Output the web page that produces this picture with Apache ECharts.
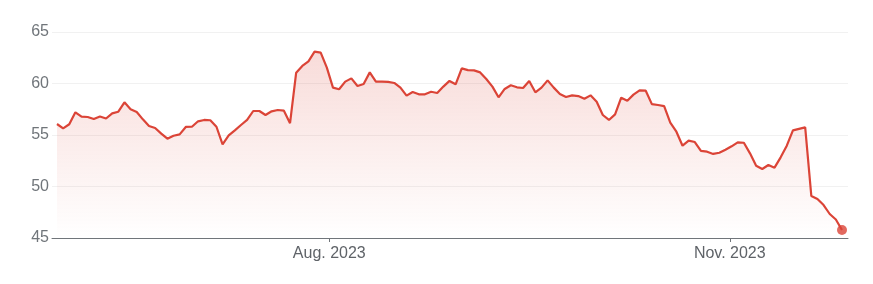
<!DOCTYPE html>
<html>
<head>
<meta charset="utf-8">
<script src="https://cdn.jsdelivr.net/npm/echarts@6/dist/echarts.min.js"></script>
<style>
html,body{margin:0;padding:0;background:#fff;}
#chart{width:873px;height:284px;}
</style>
</head>
<body>
<div id="chart"></div>
<script>
// Daily closing prices (trading-day index 0..128)
const prices = [
  56.07, 55.65, 56.04, 57.2, 56.78, 56.75, 56.55, 56.8, 56.6, 57.1,
  57.26, 58.17, 57.5, 57.23, 56.52, 55.87, 55.68, 55.13, 54.64, 54.93,
  55.06, 55.78, 55.8, 56.33, 56.46, 56.43, 55.8, 54.1, 54.96, 55.45,
  55.97, 56.46, 57.33, 57.33, 56.94, 57.3, 57.43, 57.36, 56.15, 61.05,
  61.7, 62.15, 63.1, 63.0, 61.54, 59.6, 59.44, 60.18, 60.5, 59.76,
  59.95, 61.08, 60.18, 60.18, 60.15, 60.05, 59.6, 58.82, 59.18, 58.95,
  58.95, 59.2, 59.08, 59.7, 60.25, 59.92, 61.47, 61.3, 61.27, 61.08,
  60.44, 59.7, 58.66, 59.47, 59.83, 59.63, 59.56, 60.25, 59.15, 59.6,
  60.3, 59.6, 58.98, 58.69, 58.85, 58.78, 58.52, 58.85, 58.23, 56.94,
  56.46, 57.0, 58.62, 58.33, 58.92, 59.34, 59.3, 58.0, 57.91, 57.8,
  56.2, 55.32, 53.96, 54.45, 54.32, 53.45, 53.38, 53.16, 53.28, 53.57,
  53.9, 54.29, 54.25, 53.22, 52.02, 51.7, 52.09, 51.83, 52.83, 53.96,
  55.45, 55.6, 55.74, 49.08, 48.79, 48.2, 47.33, 46.8, 45.78
];
// x-axis month ticks (position in trading-day index) and labels
const tickPositions = [44.4, 109.7];
const tickLabels = ['Aug. 2023', 'Nov. 2023'];
// y-axis ticks
const yTicks = [45, 50, 55, 60, 65];

const lineData = prices.map((v, i) => [i, v]);
const lastIdx = prices.length - 1;
const red = '#db4437';

const chart = echarts.init(document.getElementById('chart'), null, {renderer: 'canvas'});
chart.setOption({
  animation: false,
  grid: {left: 52, right: 25, top: 32, bottom: 46, containLabel: false},
  xAxis: {
    type: 'value',
    min: -0.815,
    max: lastIdx + 0.98,
    splitLine: {show: false},
    axisLine: {show: true, lineStyle: {color: '#70757a', width: 1}},
    axisTick: {show: true, length: 4, customValues: tickPositions, lineStyle: {color: '#70757a'}},
    axisLabel: {
      show: true,
      customValues: tickPositions,
      margin: 8,
      color: '#5f6368',
      fontSize: 16,
      fontFamily: 'Arial',
      formatter: function (val) {
        const k = tickPositions.findIndex(p => Math.abs(p - val) < 0.01);
        return k >= 0 ? tickLabels[k] : '';
      }
    }
  },
  yAxis: {
    type: 'value',
    min: yTicks[0],
    max: yTicks[yTicks.length - 1],
    interval: 5,
    axisLine: {show: false},
    axisTick: {show: false},
    splitLine: {show: true, lineStyle: {color: '#f1f1f1', width: 1}},
    axisLabel: {color: '#70757a', fontSize: 16, fontFamily: 'Arial', margin: 3}
  },
  series: [
    {
      type: 'line',
      data: lineData,
      showSymbol: false,
      symbol: 'none',
      lineStyle: {color: red, width: 2.2},
      areaStyle: {
        color: new echarts.graphic.LinearGradient(0, 0, 0, 1, [
          {offset: 0, color: 'rgba(219,68,55,0.27)'},
          {offset: 1, color: 'rgba(219,68,55,0)'}
        ])
      },
      z: 2
    },
    {
      type: 'scatter',
      data: [[lastIdx, prices[lastIdx]]],
      symbol: 'circle',
      symbolSize: 10,
      itemStyle: {color: red},
      z: 3
    }
  ]
});
</script>
</body>
</html>
